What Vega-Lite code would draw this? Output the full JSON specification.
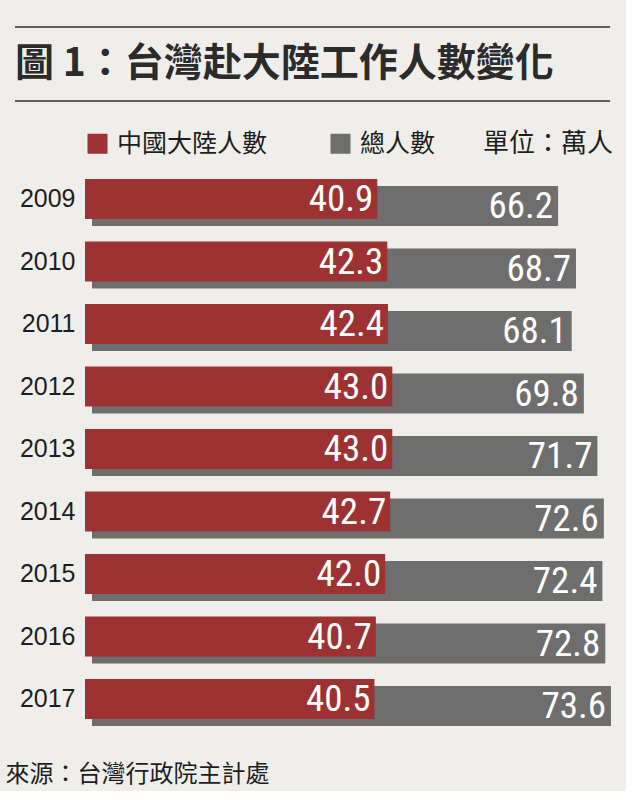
{
  "$schema": "https://vega.github.io/schema/vega-lite/v6.json",
  "background": "#efeeeb",
  "padding": {"left": 5, "top": 26, "right": 5, "bottom": 5},
  "spacing": 29,
  "config": {"view": {"stroke": null}, "font": "Noto Sans CJK TC"},
  "resolve": {"scale": {"color": "independent"}, "legend": {"color": "independent"}},
  "vconcat": [
    {
      "width": 525,
      "height": 74,
      "layer": [
        {
          "data": {"values": [{"line": 0}, {"line": 1}]},
          "mark": {"type": "rule", "color": "#2e2e2e", "strokeWidth": 1.5},
          "encoding": {
            "x": {"datum": -70, "type": "quantitative", "scale": {"domain": [0, 525], "nice": false}, "axis": null},
            "x2": {"datum": 525},
            "y": {"field": "line", "type": "quantitative", "scale": {"domain": [0, 1], "nice": false}, "axis": null}
          }
        },
        {
          "data": {"values": [{"label": "圖 1：台灣赴大陸工作人數變化"}]},
          "mark": {"type": "text", "align": "left", "baseline": "middle", "fontSize": 39, "fontWeight": "bold", "font": "Noto Sans CJK TC", "color": "#2b2b2b"},
          "encoding": {
            "x": {"datum": -70, "type": "quantitative"},
            "y": {"datum": 0.5, "type": "quantitative"},
            "text": {"field": "label"}
          }
        }
      ]
    },
    {
      "width": 536,
      "height": 560,
      "data": {
        "values": [
          {"year": "2009", "china": 40.9, "total": 66.2},
          {"year": "2010", "china": 42.3, "total": 68.7},
          {"year": "2011", "china": 42.4, "total": 68.1},
          {"year": "2012", "china": 43.0, "total": 69.8},
          {"year": "2013", "china": 43.0, "total": 71.7},
          {"year": "2014", "china": 42.7, "total": 72.6},
          {"year": "2015", "china": 42.0, "total": 72.4},
          {"year": "2016", "china": 40.7, "total": 72.8},
          {"year": "2017", "china": 40.5, "total": 73.6}
        ]
      },
      "encoding": {
        "y": {
          "field": "year",
          "type": "ordinal",
          "scale": {"paddingInner": 0.36, "paddingOuter": 0.16},
          "axis": {"title": null, "ticks": false, "domain": false, "labelFontSize": 25, "labelFont": "Liberation Sans", "labelColor": "#1e1e1e", "labelPadding": 10}
        }
      },
      "layer": [
        {
          "mark": {"type": "bar", "yOffset": 7, "x2Offset": 7},
          "encoding": {
            "x": {"field": "total", "type": "quantitative", "scale": {"domain": [0, 75], "nice": false},
              "title": "來源：台灣行政院主計處",
              "axis": {"labels": false, "ticks": false, "domain": false, "grid": false, "titleFontSize": 24, "titleFontWeight": "normal", "titleColor": "#1e1e1e", "titleAnchor": "start", "titleAlign": "left", "titleX": -80, "titleY": 45, "titleBaseline": "middle", "titleFont": "Noto Sans CJK TC"}},
            "x2": {"datum": 0},
            "color": {
              "datum": "總人數", "type": "nominal",
              "scale": {"domain": ["中國大陸人數", "總人數"], "range": ["#9d3232", "#6e6e6e"]},
              "legend": {"orient": "top", "direction": "horizontal", "title": "單位：萬人", "titleOrient": "right", "titleFontSize": 26, "titleFontWeight": "normal", "titleColor": "#1e1e1e", "titlePadding": 48, "labelFontSize": 25, "labelColor": "#1e1e1e", "symbolType": "square", "symbolSize": 400, "symbolStrokeWidth": 0, "symbolOpacity": 1, "columnPadding": 60, "labelOffset": 7, "offset": 12, "labelLimit": 300}
            }
          }
        },
        {
          "mark": {"type": "bar"},
          "encoding": {
            "x": {"field": "china", "type": "quantitative", "title": "來源：台灣行政院主計處"},
            "color": {"datum": "中國大陸人數", "type": "nominal"}
          }
        },
        {
          "mark": {"type": "text", "align": "right", "baseline": "middle", "dx": -4, "dy": 1, "fontSize": 37, "font": "Roboto Condensed, DejaVu Sans Condensed, Liberation Sans Narrow, Roboto", "color": "#ffffff"},
          "encoding": {
            "x": {"field": "china", "type": "quantitative", "title": "來源：台灣行政院主計處"},
            "text": {"field": "china", "type": "quantitative", "format": ".1f"}
          }
        },
        {
          "mark": {"type": "text", "align": "right", "baseline": "middle", "dx": -5, "dy": 1, "yOffset": 7, "fontSize": 37, "font": "Roboto Condensed, DejaVu Sans Condensed, Liberation Sans Narrow, Roboto", "color": "#ffffff"},
          "encoding": {
            "x": {"field": "total", "type": "quantitative", "title": "來源：台灣行政院主計處"},
            "text": {"field": "total", "type": "quantitative", "format": ".1f"}
          }
        }
      ]
    }
  ]
}
